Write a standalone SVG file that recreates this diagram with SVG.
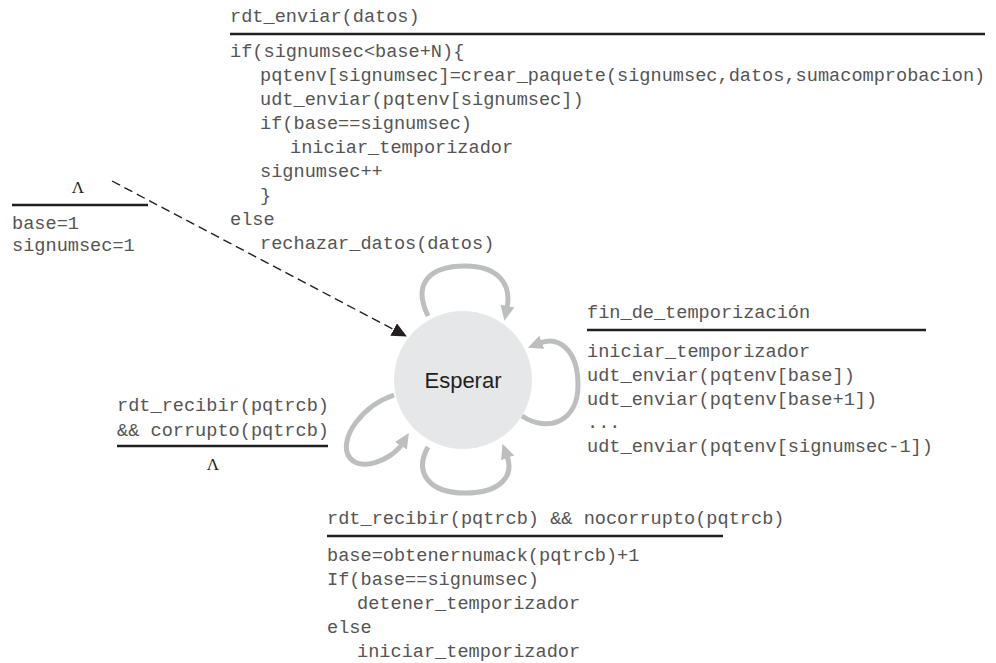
<svg xmlns="http://www.w3.org/2000/svg" width="996" height="663" viewBox="0 0 996 663">
<defs>
<style>
.t{font-family:"Liberation Mono","Courier New",monospace;font-size:18.6px;fill:#555555;}
.lam{font-family:"Liberation Serif","Times New Roman",serif;font-size:17px;fill:#231f20;}
.rule{stroke:#231f20;stroke-width:2.5;}
.loop{fill:none;stroke:#bcbec0;stroke-width:5;marker-end:url(#ga);}
</style>
<marker id="ga" markerUnits="userSpaceOnUse" markerWidth="16" markerHeight="16" refX="2" refY="8" orient="auto" viewBox="0 0 16 16">
<path d="M0,1 L15,8 L0,15 Z" fill="#bcbec0"/>
</marker>
<marker id="ba" markerUnits="userSpaceOnUse" markerWidth="16" markerHeight="14" refX="14" refY="7" orient="auto" viewBox="0 0 16 14">
<path d="M0,0 L15,7 L0,14 Z" fill="#231f20"/>
</marker>
</defs>
<rect width="996" height="663" fill="#ffffff"/>

<g id="connectors">
<path d="M112,181 L406,336" fill="none" stroke="#231f20" stroke-width="1.4" stroke-dasharray="9,5" marker-end="url(#ba)"/>
<path class="loop" d="M428,316 C412,283 430,266 465,266 C497,266 512,283 507,308"/>
<path class="loop" d="M522,416 C548,433 578,422 578,385 C578,349 558,336 540,343"/>
<path class="loop" d="M394,395 C362,406 340,437 348,455 C358,474 392,460 402,444"/>
<path class="loop" d="M428,447 C414,472 428,493 465,493 C502,493 514,475 507,456"/>
</g>

<g id="esperar">
<circle cx="463" cy="380" r="69" fill="#e6e7e8"/>
<text x="463" y="388" text-anchor="middle" font-family="Liberation Sans, Arial, sans-serif" font-size="22" fill="#231f20">Esperar</text>
</g>

<g id="init">
<text class="lam" x="78" y="193" text-anchor="middle">Λ</text>
<line class="rule" x1="12" y1="205" x2="148" y2="205"/>
<text class="t" x="12" y="229">base=1</text>
<text class="t" x="12" y="251">signumsec=1</text>
</g>

<g id="rdt_enviar">
<text class="t" x="230" y="22">rdt_enviar(datos)</text>
<line class="rule" x1="230" y1="34" x2="985" y2="34"/>
<text class="t" x="230" y="57">if(signumsec&lt;base+N){</text>
<text class="t" x="260" y="81">pqtenv[signumsec]=crear_paquete(signumsec,datos,sumacomprobacion)</text>
<text class="t" x="260" y="105">udt_enviar(pqtenv[signumsec])</text>
<text class="t" x="260" y="129">if(base==signumsec)</text>
<text class="t" x="290" y="153">iniciar_temporizador</text>
<text class="t" x="260" y="177">signumsec++</text>
<text class="t" x="260" y="201">}</text>
<text class="t" x="230" y="225">else</text>
<text class="t" x="260" y="249">rechazar_datos(datos)</text>
</g>

<g id="timeout">
<text class="t" x="587" y="318">fin_de_temporización</text>
<line class="rule" x1="587" y1="330" x2="926" y2="330"/>
<text class="t" x="587" y="357">iniciar_temporizador</text>
<text class="t" x="587" y="381">udt_enviar(pqtenv[base])</text>
<text class="t" x="587" y="405">udt_enviar(pqtenv[base+1])</text>
<text class="t" x="587" y="428">...</text>
<text class="t" x="587" y="452">udt_enviar(pqtenv[signumsec-1])</text>
</g>

<g id="corrupt">
<text class="t" x="117" y="411">rdt_recibir(pqtrcb)</text>
<text class="t" x="117" y="436">&amp;&amp; corrupto(pqtrcb)</text>
<line class="rule" x1="117" y1="446" x2="328" y2="446"/>
<text class="lam" x="213" y="470" text-anchor="middle">Λ</text>
</g>

<g id="notcorrupt">
<text class="t" x="327" y="524">rdt_recibir(pqtrcb) &amp;&amp; nocorrupto(pqtrcb)</text>
<line class="rule" x1="327" y1="536" x2="723" y2="536"/>
<text class="t" x="327" y="561">base=obtenernumack(pqtrcb)+1</text>
<text class="t" x="327" y="585">If(base==signumsec)</text>
<text class="t" x="357" y="609">detener_temporizador</text>
<text class="t" x="327" y="633">else</text>
<text class="t" x="357" y="657">iniciar_temporizador</text>
</g>
</svg>
